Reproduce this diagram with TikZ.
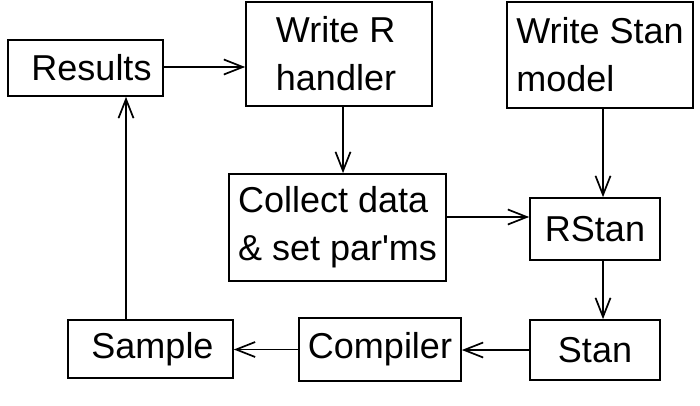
\documentclass[tikz,border=0pt]{standalone}
\usepackage{fontspec}
\setmainfont{Liberation Sans}
\usetikzlibrary{arrows.meta}
\begin{document}
\begin{tikzpicture}[x=1pt,y=-1pt,
  box/.style={draw,line width=1.7pt,inner sep=0pt,align=left,
    font=\fontsize{36}{48}\selectfont},
  arr/.style={line width=1.7pt,-{Straight Barb[length=19pt,width=15pt,line width=1.7pt]}}]
\useasboundingbox (0,0) rectangle (700,406);
\node[box,minimum width=155pt,minimum height=56pt] (results) at (85.5,68) {\hspace*{12pt}Results};
\node[box,minimum width=186pt,minimum height=104pt] (writer) at (339,54) {Write R\\handler\hspace*{6pt}};
\node[box,minimum width=186pt,minimum height=106pt] (writestan) at (600,55) {Write Stan\\model};
\node[box,minimum width=217pt,minimum height=107pt] (collect) at (337.5,227.5) {Collect data\\\& set par\textquotesingle ms};
\node[box,minimum width=130pt,minimum height=62pt] (rstan) at (595,229) {RStan};
\node[box,minimum width=130pt,minimum height=60pt] (stan) at (595,350) {Stan};
\node[box,minimum width=162pt,minimum height=63pt] (compiler) at (380,349.5) {Compiler};
\node[box,minimum width=165pt,minimum height=58pt] (sample) at (150.5,349) {\hspace*{4pt}Sample};
\draw[arr] ([yshift=1pt]results.east) -- ([yshift=1pt]writer.west |- results.east);
\draw[arr] ([xshift=4pt]writer.south) -- ([xshift=4pt]writer.south |- collect.north);
\draw[arr] ([yshift=10.5pt]collect.east) -- ([yshift=10.5pt]rstan.west |- collect.east);
\draw[arr] ([xshift=3pt]writestan.south) -- ([xshift=3pt]writestan.south |- rstan.north);
\draw[arr] ([xshift=8pt]rstan.south) -- ([xshift=8pt]rstan.south |- stan.north);
\draw[arr] (stan.west) -- (compiler.east |- stan.west);
\draw[arr] (compiler.west) -- (sample.east |- compiler.west);
\draw[arr] ([xshift=-24.5pt]sample.north) -- ([xshift=-24.5pt]sample.north |- results.south);
\end{tikzpicture}
\end{document}
